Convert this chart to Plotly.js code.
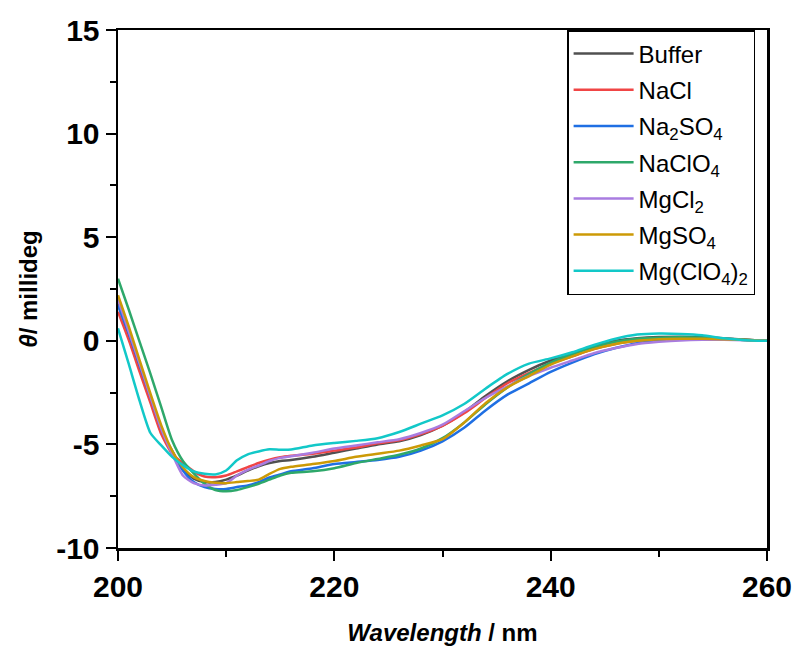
<!DOCTYPE html>
<html>
<head>
<meta charset="utf-8">
<script src="https://cdn.plot.ly/plotly-3.0.1.min.js"></script>
<style>html,body{margin:0;padding:0;background:#fff;}#chart{width:796px;height:646px;}</style>
</head>
<body>
<div id="chart"></div>
<script>
const wavelength = [200,201,202,203,204,205,206,207,208,209,210,211,212,213,214,215,216,218,220,222,224,226,228,230,232,234,236,238,240,242,244,246,248,250,252,254,256,258,260];

const buffer   = [1.8,0.27,-1.26,-2.8,-4.3,-5.3,-6.2,-6.65,-6.82,-6.82,-6.7,-6.5,-6.26,-6.06,-5.9,-5.8,-5.75,-5.6,-5.4,-5.2,-5.0,-4.85,-4.55,-4.1,-3.45,-2.65,-1.95,-1.4,-0.95,-0.6,-0.25,0.0,0.12,0.18,0.2,0.18,0.12,0.05,0.0];
const nacl     = [1.4,0.03,-1.5,-3.0,-4.5,-5.45,-5.9,-6.3,-6.55,-6.58,-6.5,-6.3,-6.1,-5.9,-5.74,-5.62,-5.55,-5.45,-5.3,-5.15,-4.95,-4.8,-4.5,-4.1,-3.5,-2.75,-2.05,-1.55,-1.1,-0.75,-0.4,-0.15,0.0,0.08,0.12,0.12,0.1,0.05,0.0];
const na2so4   = [1.7,0.35,-1.18,-2.7,-4.24,-5.37,-6.26,-6.82,-7.06,-7.15,-7.15,-7.06,-6.98,-6.82,-6.6,-6.45,-6.3,-6.15,-5.95,-5.85,-5.75,-5.6,-5.3,-4.85,-4.2,-3.35,-2.6,-2.05,-1.5,-1.05,-0.65,-0.35,-0.12,0.0,0.07,0.1,0.08,0.04,0.0];
const naclo4   = [3.0,1.5,-0.05,-1.6,-3.2,-4.8,-5.8,-6.4,-6.9,-7.2,-7.26,-7.2,-7.06,-6.9,-6.7,-6.5,-6.37,-6.3,-6.15,-5.9,-5.7,-5.5,-5.2,-4.7,-3.95,-3.05,-2.25,-1.6,-1.05,-0.65,-0.3,-0.05,0.1,0.15,0.17,0.15,0.1,0.05,0.0];
const mgcl2    = [2.0,0.45,-1.1,-2.7,-4.25,-5.45,-6.5,-6.87,-6.98,-6.95,-6.87,-6.5,-6.23,-6.02,-5.8,-5.65,-5.57,-5.4,-5.2,-5.05,-4.9,-4.75,-4.45,-4.05,-3.4,-2.75,-2.2,-1.7,-1.3,-0.95,-0.6,-0.35,-0.15,-0.05,0.02,0.05,0.05,0.03,0.0];
const mgso4    = [2.2,0.68,-0.94,-2.55,-4.08,-5.3,-6.1,-6.58,-6.77,-6.85,-6.87,-6.82,-6.77,-6.7,-6.42,-6.18,-6.08,-5.95,-5.8,-5.6,-5.45,-5.3,-5.05,-4.75,-3.95,-3.0,-2.25,-1.7,-1.15,-0.75,-0.4,-0.15,0.0,0.08,0.1,0.1,0.08,0.04,0.0];
const mgclo42  = [0.6,-1.13,-2.9,-4.45,-5.05,-5.6,-6.0,-6.3,-6.42,-6.45,-6.26,-5.77,-5.48,-5.34,-5.24,-5.26,-5.25,-5.05,-4.93,-4.83,-4.7,-4.4,-4.0,-3.6,-3.05,-2.3,-1.6,-1.1,-0.85,-0.55,-0.2,0.1,0.3,0.35,0.33,0.27,0.12,0.03,0.0];

const seriesNames = ["Buffer","NaCl","Na<sub>2</sub>SO<sub>4</sub>","NaClO<sub>4</sub>","MgCl<sub>2</sub>","MgSO<sub>4</sub>","Mg(ClO<sub>4</sub>)<sub>2</sub>"];
const seriesValues = [buffer,nacl,na2so4,naclo4,mgcl2,mgso4,mgclo42];
const seriesColors = ["#505050","#f04545","#1f6fe3","#2ea86a","#a97ce0","#cc9a06","#12c8c8"];

const xTickVals = [200,220,240,260];
const xTickText = ["200","220","240","260"];
const yTickVals = [-10,-5,0,5,10,15];
const yTickText = ["-10","-5","0","5","10","15"];

const traces = seriesValues.map((v,i)=>({
  x: wavelength, y: v, type:'scatter', mode:'lines', name: seriesNames[i],
  legendgroup: 'g'+i,
  line:{color:seriesColors[i], width:2.5, shape:'spline', smoothing:0.6}
}));

const FONT = "Liberation Sans, Arial, Helvetica, sans-serif";
const layout = {
  width:796, height:646,
  margin:{l:118, r:29, t:30, b:98},
  paper_bgcolor:'#fff', plot_bgcolor:'#fff',
  showlegend:true,
  font:{family:FONT, color:'#000'},
  xaxis:{
    range:[200,260], tickvals:xTickVals, ticktext:xTickText, ticks:'outside', ticklen:10, tickwidth:2, tickcolor:'#000',
    minor:{tickvals:[210,230,250], ticks:'outside', ticklen:6, tickwidth:2, tickcolor:'#000'},
    showline:true, linecolor:'#000', linewidth:2.5, mirror:true, showgrid:false, zeroline:false,
    tickfont:{family:FONT, size:30, weight:'bold', color:'#000'},
    title:{text:"<b><i>Wavelength</i> / nm</b>", font:{family:FONT, size:24, color:'#000'}, standoff:24}
  },
  yaxis:{
    range:[-10,15], tickvals:yTickVals, ticktext:yTickText, ticks:'outside', ticklen:10, tickwidth:2, tickcolor:'#000',
    minor:{tickvals:[-7.5,-2.5,2.5,7.5,12.5], ticks:'outside', ticklen:6, tickwidth:2, tickcolor:'#000'},
    showline:true, linecolor:'#000', linewidth:2.5, mirror:true, showgrid:false, zeroline:false,
    tickfont:{family:FONT, size:30, weight:'bold', color:'#000'},
    title:{text:"<b><i>θ</i>/ millideg</b>", font:{family:FONT, size:24, color:'#000'}, standoff:12}
  },
  legend:{
    x:0.692, y:1, xanchor:'left', yanchor:'top',
    bgcolor:'#fff', bordercolor:'#000', borderwidth:1.5,
    font:{family:FONT, size:24, color:'#000'},
    tracegroupgap:2, itemwidth:60
  }
};
Plotly.newPlot('chart', traces, layout, {displayModeBar:false, staticPlot:true});
</script>
</body>
</html>
